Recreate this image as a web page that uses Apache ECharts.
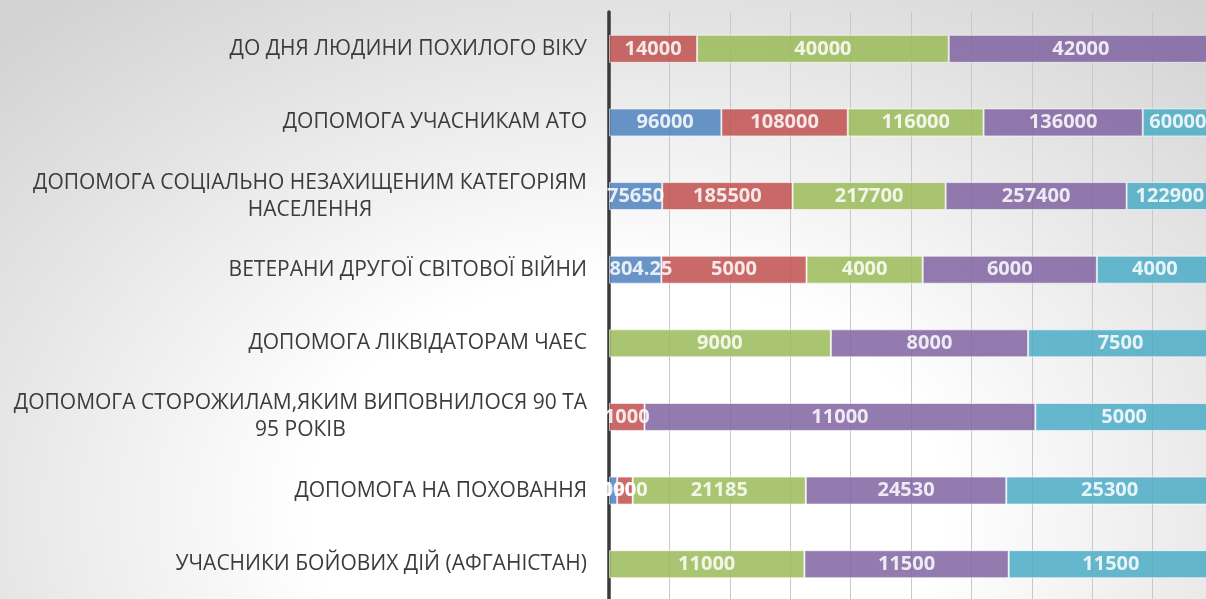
<!DOCTYPE html>
<html>
<head>
<meta charset="utf-8">
<script src="https://cdn.jsdelivr.net/npm/echarts@6/dist/echarts.min.js"></script>
<style>
  html, body {
    margin: 0;
    padding: 0;
  }
  #chart {
    width: 1206px;
    height: 599px;
    background: radial-gradient(ellipse 75% 110% at 52% 85%, #ffffff 0%, #ffffff 35%, #e6e6e6 70%, #d2d2d2 100%);
  }
</style>
</head>
<body>
<div id="chart"></div>
<script>
// categories, top to bottom
const categories = [
  'ДО ДНЯ ЛЮДИНИ ПОХИЛОГО ВІКУ',
  'ДОПОМОГА УЧАСНИКАМ АТО',
  'ДОПОМОГА СОЦІАЛЬНО НЕЗАХИЩЕНИМ КАТЕГОРІЯМ\nНАСЕЛЕННЯ',
  'ВЕТЕРАНИ ДРУГОЇ СВІТОВОЇ ВІЙНИ',
  'ДОПОМОГА ЛІКВІДАТОРАМ ЧАЕС',
  'ДОПОМОГА СТОРОЖИЛАМ,ЯКИМ ВИПОВНИЛОСЯ 90 ТА\n95 РОКІВ',
  'ДОПОМОГА НА ПОХОВАННЯ',
  'УЧАСНИКИ БОЙОВИХ ДІЙ (АФГАНІСТАН)'
]

// raw values per series (null = no segment)
const blueVals = [null, 96000, 75650, 1804.25, null, null, 1000, null]
const redVals = [14000, 108000, 185500, 5000, null, 1000, 1900, null]
const greenVals = [40000, 116000, 217700, 4000, 9000, null, 21185, 11000]
const purpleVals = [42000, 136000, 257400, 6000, 8000, 11000, 24530, 11500]
const cyanVals = [null, 60000, 122900, 4000, 7500, 5000, 25300, 11500]

const seriesVals = [blueVals, redVals, greenVals, purpleVals, cyanVals]
const colors = ['#4F81BD', '#C0504D', '#9BBB59', '#8064A2', '#4BACC6']

// row totals for the 100% stack
const totals = categories.map((c, i) => {
  let s = 0
  seriesVals.forEach(arr => { s += arr[i] || 0 })
  return s
})

const chart = echarts.init(document.getElementById('chart'))

const series = seriesVals.map((vals, k) => ({
  type: 'bar',
  stack: 'total',
  barWidth: 28,
  itemStyle: {
    color: colors[k],
    opacity: 0.85,
    borderColor: 'rgba(255,255,255,0.7)',
    borderWidth: 1
  },
  label: {
    show: true,
    position: 'inside',
    color: '#ffffff',
    fontFamily: 'Open Sans',
    fontWeight: 'bold',
    fontSize: 20,
    formatter: p => String(vals[p.dataIndex])
  },
  data: vals.map((v, i) => v == null ? '-' : v / totals[i] * 100)
}))

const option = {
  animation: false,
  grid: {
    left: 609,
    top: 12,
    width: 604,
    height: 589,
    outerBoundsMode: 'none'
  },
  xAxis: {
    type: 'value',
    min: 0,
    max: 100,
    interval: 10,
    axisLabel: { show: false },
    axisLine: { show: false },
    axisTick: { show: false },
    splitLine: {
      show: true,
      lineStyle: { color: '#c8c8c8', width: 1 }
    }
  },
  yAxis: {
    type: 'category',
    inverse: true,
    data: categories,
    axisTick: { show: false },
    axisLine: {
      show: true,
      lineStyle: { color: '#3a3a3a', width: 3.5 }
    },
    axisLabel: {
      margin: 22,
      formatter: v => v.split('\n').map(l => '{c|' + l + '}').join('\n'),
      rich: {
        c: {
          align: 'center',
          color: '#3c3c3c',
          fontFamily: 'Open Sans',
          fontSize: 21,
          lineHeight: 27
        }
      }
    }
  },
  series: series
}

chart.setOption(option)
</script>
</body>
</html>
